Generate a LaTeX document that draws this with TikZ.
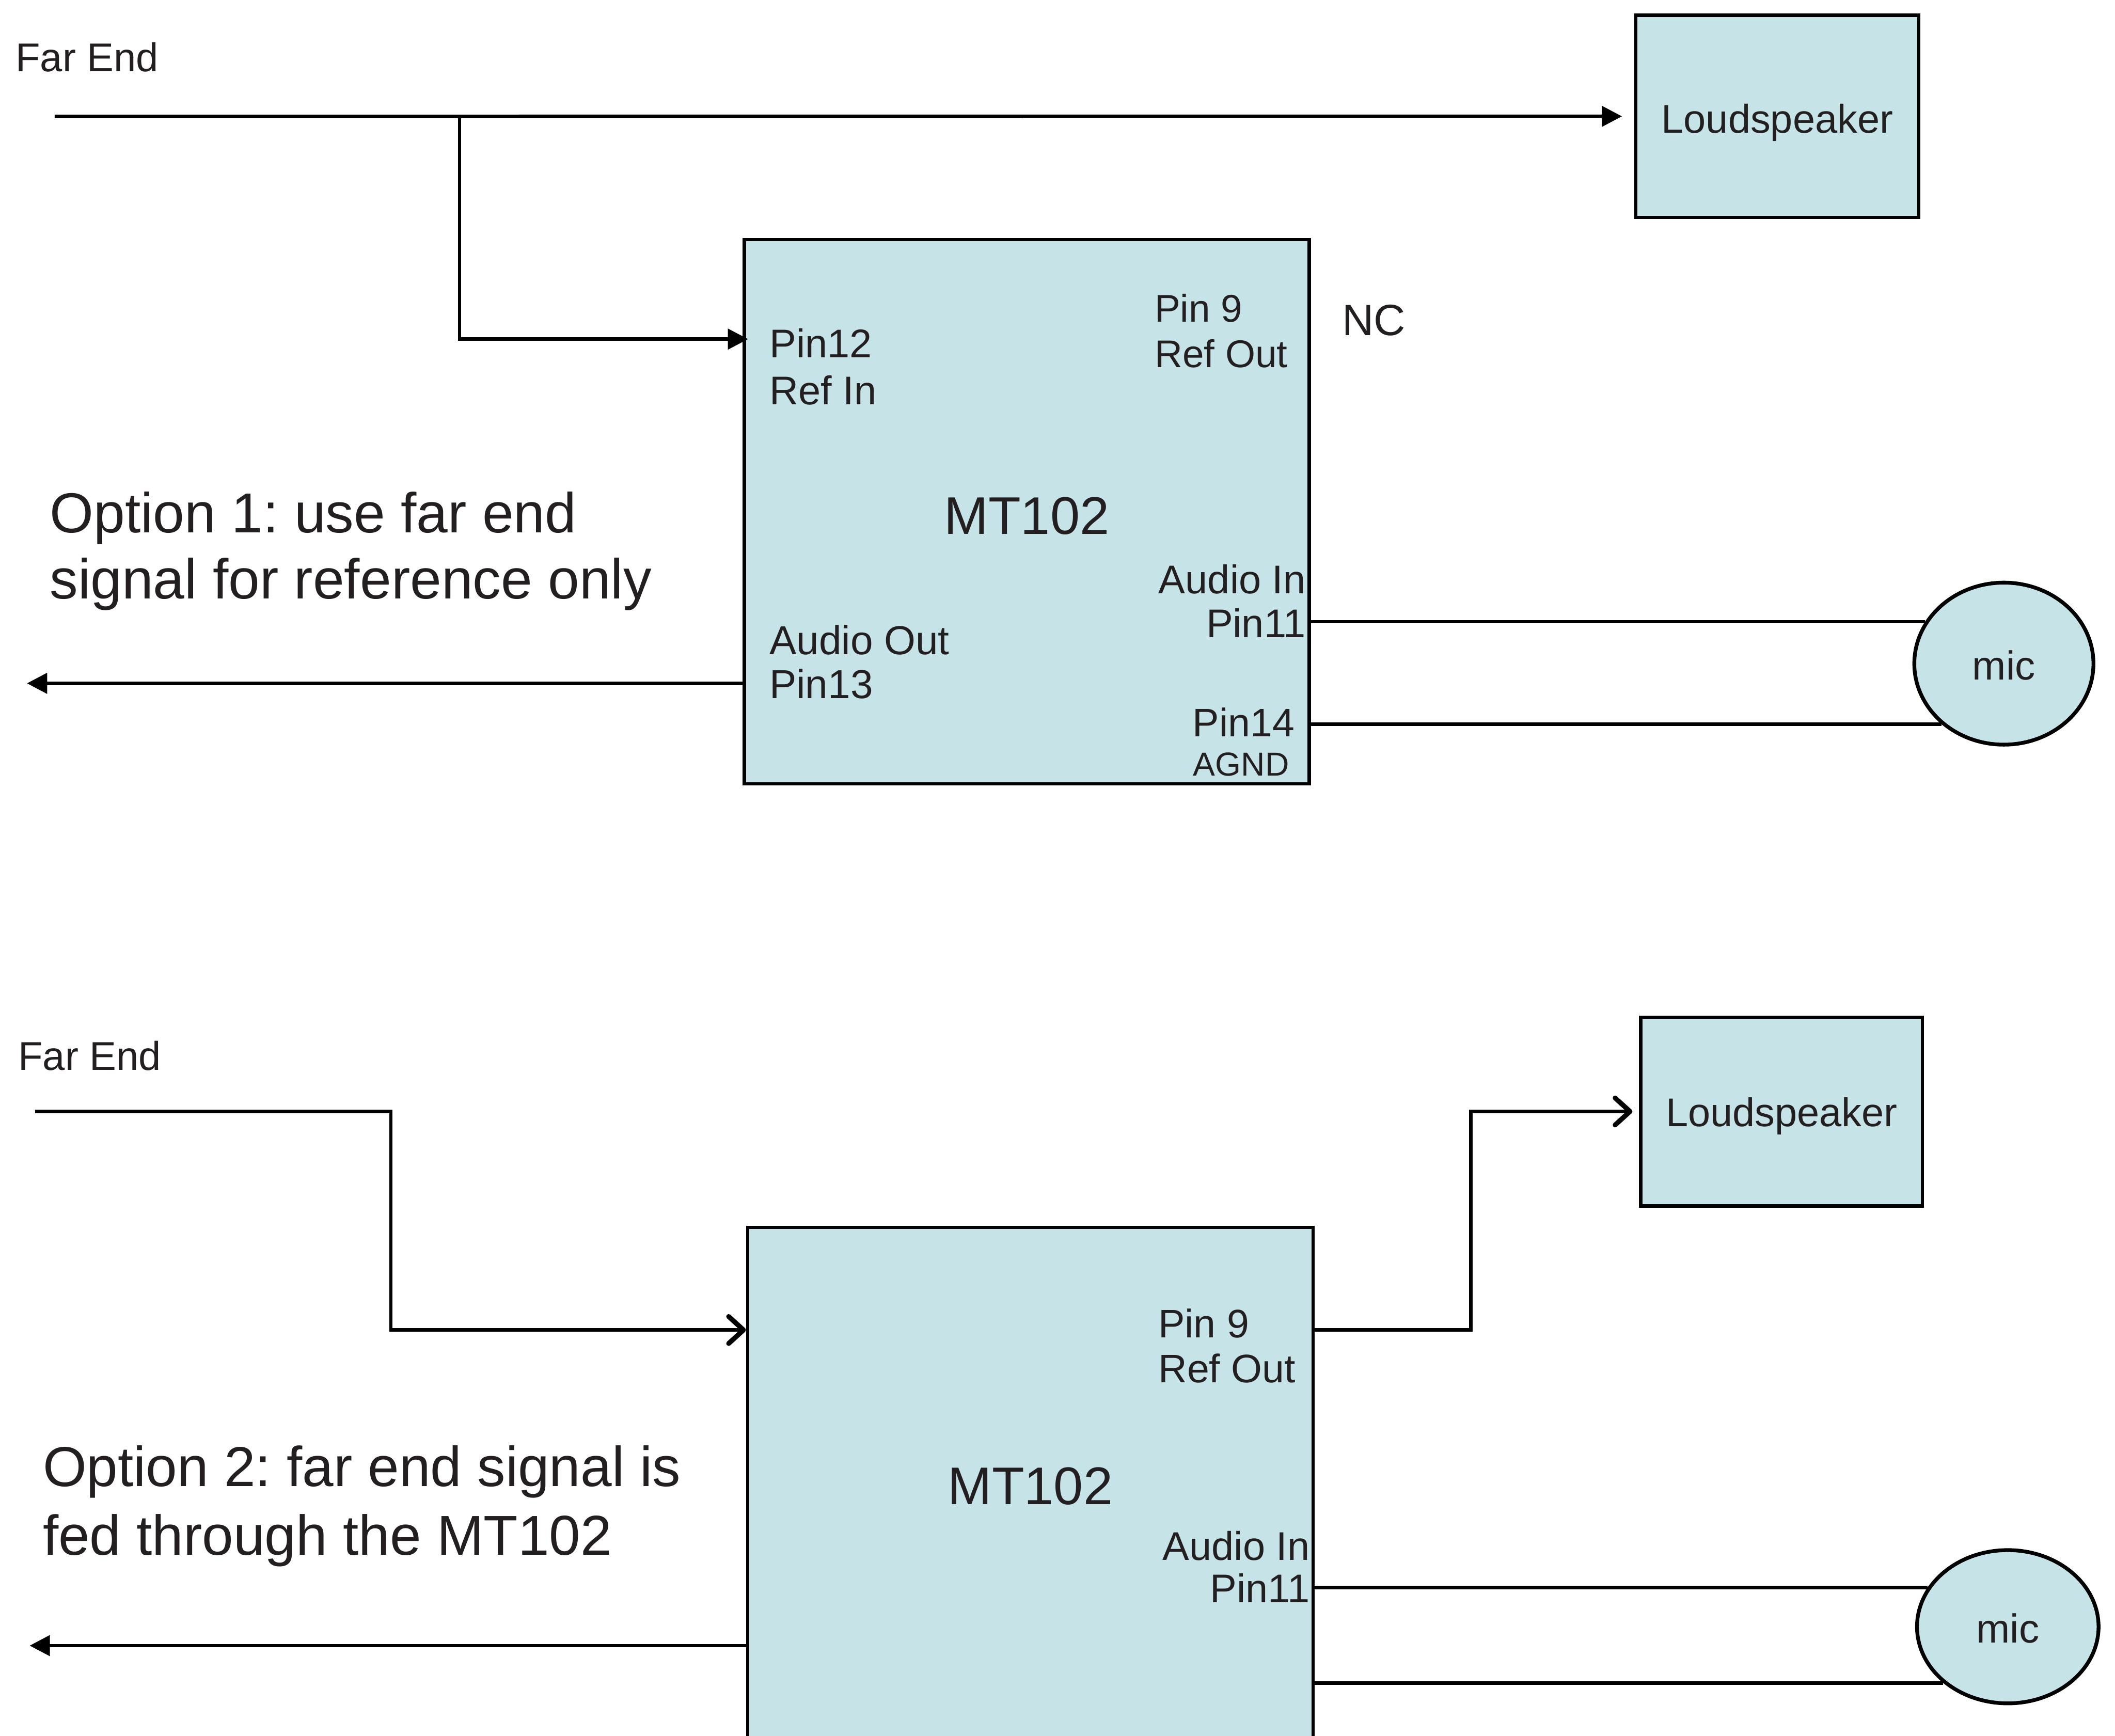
\documentclass[tikz,border=0pt]{standalone}
\usepackage{fontspec}
\setmainfont{Liberation Sans}
\usetikzlibrary{arrows.meta,shapes.geometric}
\definecolor{boxfill}{HTML}{C6E4E8}
\definecolor{ink}{HTML}{231F20}
\frenchspacing
\tikzset{
  txt/.style={inner sep=0pt, outer sep=0pt, text=ink},
  fs/.style={font=\fontsize{#1}{#1}\selectfont},
  blk/.style={draw=black, line width=2.4pt, fill=boxfill, inner sep=0pt, text=ink},
  micshape/.style={ellipse, draw=black, line width=2.8pt, fill=boxfill, inner sep=0pt, text=ink, text height=24pt, text depth=0pt},
  wire/.style={draw=black, line width=2.6pt},
  tri/.style={-{Triangle[length=15pt,width=15pt]}},
  barb/.style={-{Straight Barb[length=11pt,width=20pt,line width=3.6pt,round]}}
}
\begin{document}
\begin{tikzpicture}[x=1pt,y=-1pt]
\useasboundingbox (0,0) rectangle (1568,1287);
\fill[white] (0,0) rectangle (1568,1287);
\clip (0,0) rectangle (1568,1287);

% ---------- Option 1 ----------
\node[blk, fs=29.7, minimum width=209.8pt, minimum height=149.9pt, text height=31.2pt, text depth=6.3pt] (ls1) at (1317.6,86.25) {Loudspeaker};
\node[blk, fs=39.3, minimum width=418.8pt, minimum height=403.4pt, text height=33pt, text depth=0pt] (mt1) at (761.2,379.4) {MT102};
\node[micshape, fs=30, minimum width=132.8pt, minimum height=120.1pt] (mic1) at (1485.6,492) {mic};

\coordinate (fe1) at (40.5,86.3);
\coordinate (j1) at (340.7,86.3);
\coordinate (out1) at (20,506.6);
\draw[wire,tri] (fe1) -- ([xshift=-9pt]ls1.west);
\draw[wire,tri] (j1) |- ([shift={(4,74.9)}]mt1.north west);
\draw[wire,tri] (mt1.west |- out1) -- (out1);
\draw[wire] (mt1.east |- mic1.152.8) -- (mic1.152.8);
\draw[wire] (mt1.east |- mic1.224.6) -- (mic1.224.6);

\node[txt,fs=29.8,anchor=base west] (fe1lbl) at (11.6,52.9) {Far End};
\node[txt,fs=29.7,anchor=base west] (p12) at (570.5,265) {Pin12};
\node[txt,fs=29.7,anchor=base west] (refin) at (570.5,300) {Ref In};
\node[txt,fs=28.6,anchor=base west] (p9a) at (856,238.7) {Pin 9};
\node[txt,fs=28.6,anchor=base west] (refouta) at (856,272.4) {Ref Out};
\node[txt,fs=32.5,anchor=base west] (nc) at (995,248.7) {NC};
\node[txt,fs=29.7,anchor=base east] (ain1) at (968,440) {Audio In};
\node[txt,fs=29.7,anchor=base east] (p11a) at (968,472.5) {Pin11};
\node[txt,fs=30,anchor=base west] (aout) at (570.5,485.4) {Audio Out};
\node[txt,fs=30,anchor=base west] (p13) at (570.5,517.6) {Pin13};
\node[txt,fs=29.5,anchor=base east] (p14) at (959.7,546) {Pin14};
\node[txt,fs=24.6,anchor=base east] (agnd) at (955.7,575.3) {AGND};
\node[txt,fs=41.8,anchor=base west] (opt1a) at (37,395) {Option 1: use far end};
\node[txt,fs=41.8,anchor=base west] (opt1b) at (37,444) {signal for reference only};

% ---------- Option 2 ----------
\node[blk, fs=29.7, minimum width=208.9pt, minimum height=140pt, text height=28.5pt, text depth=6.3pt] (ls2) at (1320.85,824) {Loudspeaker};
\node[blk, fs=39.3, minimum width=419.3pt, minimum height=383.7pt] (mt2) at (763.85,1101.85) {MT102};
\node[micshape, fs=30, minimum width=134.6pt, minimum height=113.6pt] (mic2) at (1488.5,1206) {mic};

\coordinate (fe2) at (26.2,824);
\coordinate (bend2) at (289.8,986);
\coordinate (bend3) at (1090.4,986);
\coordinate (out2) at (22,1220);
\draw[wire,barb] (fe2) -| (bend2) -- (mt2.west |- bend2);
\draw[wire,barb] (mt2.east |- bend3) -- (bend3) |- ([xshift=-5pt]ls2.west);
\draw[wire,tri] (mt2.west |- out2) -- (out2);
\draw[wire] (mt2.east |- mic2.154.8) -- (mic2.154.8);
\draw[wire] (mt2.east |- mic2.221.8) -- (mic2.221.8);

\node[txt,fs=29.8,anchor=base west] (fe2lbl) at (13.5,793.2) {Far End};
\node[txt,fs=29.5,anchor=base west] (p9b) at (858.8,991.7) {Pin 9};
\node[txt,fs=29.5,anchor=base west] (refoutb) at (858.8,1024.8) {Ref Out};
\node[txt,fs=29.7,anchor=base east] (ain2) at (971,1156.8) {Audio In};
\node[txt,fs=29.7,anchor=base east] (p11b) at (971,1188) {Pin11};
\node[txt,fs=41.7,anchor=base west] (opt2a) at (31.8,1102) {Option 2: far end signal is};
\node[txt,fs=41.7,anchor=base west] (opt2b) at (31.8,1152.7) {fed through the MT102};
\end{tikzpicture}
\end{document}
